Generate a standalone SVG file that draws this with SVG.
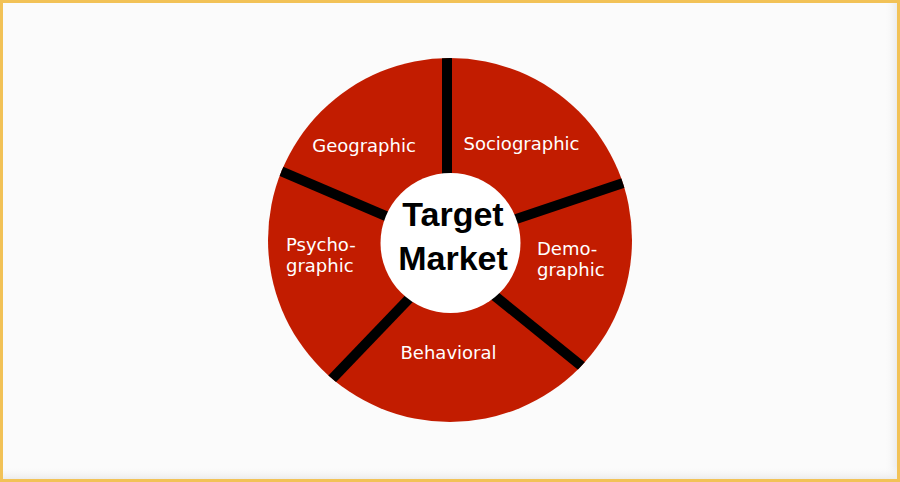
<svg xmlns="http://www.w3.org/2000/svg" width="900" height="482" viewBox="0 0 900 482">
  <style>
    .lbl { font-family: "DejaVu Sans", Verdana, sans-serif; font-size: 18px; fill: #ffffff; }
    .ctr { font-family: "Liberation Sans", Arial, sans-serif; font-size: 34px; font-weight: bold; fill: #000000; text-anchor: middle; }
    .spoke { stroke: #000000; stroke-width: 10; stroke-linecap: butt; }
  </style>
  <defs>
    <clipPath id="outer">
      <circle cx="450" cy="240" r="182"/>
    </clipPath>
    <linearGradient id="edgeR" x1="0" y1="0" x2="1" y2="0">
      <stop offset="0" stop-color="#fbfbfb" stop-opacity="0"/>
      <stop offset="1" stop-color="#ececec"/>
    </linearGradient>
    <linearGradient id="edgeB" x1="0" y1="0" x2="0" y2="1">
      <stop offset="0" stop-color="#fbfbfb" stop-opacity="0"/>
      <stop offset="1" stop-color="#ececec"/>
    </linearGradient>
  </defs>
  <rect x="0" y="0" width="900" height="482" fill="#fbfbfb"/>
  <rect x="884" y="2" width="13" height="477" fill="url(#edgeR)"/>
  <rect x="2" y="466" width="895" height="13" fill="url(#edgeB)"/>
  <rect x="1.5" y="1.5" width="897" height="479" fill="none" stroke="#f2c257" stroke-width="3"/>

  <g id="ring">
    <circle cx="450" cy="240" r="182" fill="#c21c00"/>
  </g>
  <g id="connectors" clip-path="url(#outer)">
    <line class="spoke" x1="447" y1="50" x2="447" y2="200"/>
    <line class="spoke" x1="500" y1="224.4" x2="640" y2="177.3"/>
    <line class="spoke" x1="480" y1="284" x2="600" y2="381"/>
    <line class="spoke" x1="425" y1="282" x2="320" y2="391.5"/>
    <line class="spoke" x1="265" y1="164.3" x2="410" y2="226.4"/>
  </g>
  <g id="center">
    <circle cx="450.5" cy="243" r="70" fill="#ffffff"/>
    <text class="ctr" x="453" y="226">Target</text>
    <text class="ctr" x="453" y="270">Market</text>
  </g>
  <g id="geographic"><text class="lbl" x="364" y="152" text-anchor="middle">Geographic</text></g>
  <g id="sociographic"><text class="lbl" x="521.5" y="150" text-anchor="middle">Sociographic</text></g>
  <g id="demographic">
    <text class="lbl" x="537" y="255">Demo-</text>
    <text class="lbl" x="537" y="276">graphic</text>
  </g>
  <g id="behavioral"><text class="lbl" x="448.5" y="359" text-anchor="middle">Behavioral</text></g>
  <g id="psychographic">
    <text class="lbl" x="286" y="251">Psycho-</text>
    <text class="lbl" x="286" y="272">graphic</text>
  </g>
</svg>
